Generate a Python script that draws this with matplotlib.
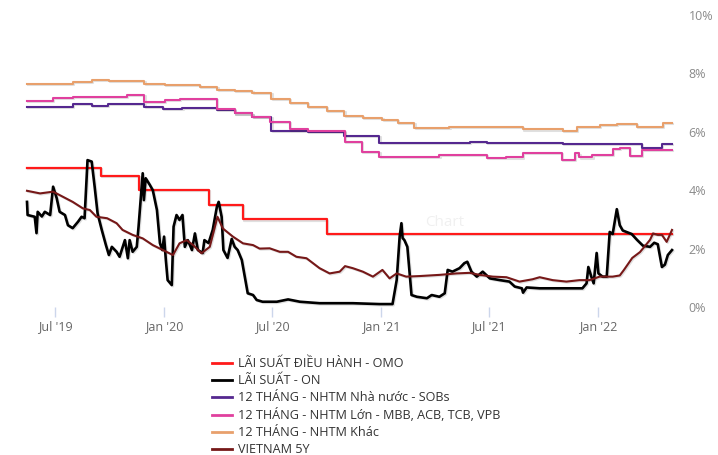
import matplotlib
matplotlib.use("Agg")
import matplotlib.pyplot as plt
import matplotlib.patheffects as pe
import pandas as pd

plt.rcParams['font.family'] = ['Open Sans', 'DejaVu Sans']

END_DATE = "2022-05-06"

# Policy OMO rate (step series: change dates and new level)
omo_dates = ["2019-05-15", "2019-09-16", "2019-11-19", "2020-03-17", "2020-05-13", "2020-10-01"]
omo_values = [4.75, 4.5, 4.0, 3.5, 3.0, 2.5]

# Overnight interbank rate
on_dates = [
    "2019-05-15", "2019-05-16", "2019-05-28", "2019-05-31", "2019-06-02", "2019-06-09", "2019-06-14",
    "2019-06-23", "2019-06-28", "2019-07-04", "2019-07-09", "2019-07-18", "2019-07-23", "2019-07-31",
    "2019-08-09", "2019-08-15", "2019-08-20", "2019-08-25", "2019-09-01", "2019-09-06", "2019-09-11",
    "2019-09-18", "2019-09-25", "2019-09-30", "2019-10-05", "2019-10-13", "2019-10-18", "2019-10-27",
    "2019-11-01", "2019-11-04", "2019-11-09", "2019-11-16", "2019-11-19", "2019-11-26", "2019-11-28",
    "2019-12-01", "2019-12-08", "2019-12-13", "2019-12-20", "2019-12-25", "2019-12-29", "2020-01-01",
    "2020-01-04", "2020-01-07", "2020-01-14", "2020-01-17", "2020-01-22", "2020-01-27", "2020-02-01",
    "2020-02-05", "2020-02-10", "2020-02-17", "2020-02-22", "2020-02-27", "2020-03-06", "2020-03-09",
    "2020-03-16", "2020-03-23", "2020-03-30", "2020-04-02", "2020-04-07", "2020-04-10", "2020-04-17",
    "2020-04-24", "2020-04-29", "2020-05-04", "2020-05-11", "2020-05-16", "2020-05-21", "2020-05-30",
    "2020-06-05", "2020-06-15", "2020-07-09", "2020-07-28", "2020-08-17", "2020-09-19", "2020-11-14",
    "2020-12-29", "2021-01-20", "2021-01-27", "2021-02-01", "2021-02-04", "2021-02-06", "2021-02-09",
    "2021-02-14", "2021-02-21", "2021-03-02", "2021-03-19", "2021-03-27", "2021-04-09", "2021-04-18",
    "2021-04-23", "2021-05-01", "2021-05-13", "2021-05-21", "2021-05-26", "2021-06-02", "2021-06-11",
    "2021-06-21", "2021-07-03", "2021-07-20", "2021-08-05", "2021-08-14", "2021-08-26", "2021-08-28",
    "2021-09-03", "2021-09-25", "2021-10-29", "2021-12-06", "2021-12-13", "2021-12-16", "2021-12-21",
    "2021-12-25", "2021-12-30", "2022-01-02", "2022-01-09", "2022-01-16", "2022-01-21", "2022-01-26",
    "2022-02-02", "2022-02-07", "2022-02-12", "2022-02-27", "2022-03-08", "2022-03-18", "2022-03-30",
    "2022-04-06", "2022-04-12", "2022-04-19", "2022-04-24", "2022-04-29", "2022-05-06",
]
on_values = [
    3.60, 3.15, 3.09, 2.53, 3.26, 3.10, 3.26,
    3.15, 4.12, 3.73, 3.26, 3.15, 2.80, 2.70,
    2.92, 3.09, 3.04, 5.03, 4.98, 4.12, 3.20,
    2.64, 2.12, 1.78, 2.06, 1.89, 1.72, 2.29,
    1.67, 2.29, 1.89, 2.06, 2.75, 4.58, 3.66,
    4.41, 4.18, 4.00, 3.32, 2.19, 1.95, 2.41,
    1.61, 0.92, 0.75, 2.75, 3.15, 2.98, 3.15,
    2.06, 2.29, 1.95, 2.52, 1.95, 1.85, 2.29,
    2.19, 2.64, 3.43, 3.60, 3.09, 1.95, 1.68,
    2.33, 2.06, 1.95, 1.61, 1.04, 0.47, 0.41,
    0.24, 0.18, 0.18, 0.26, 0.18, 0.13, 0.13,
    0.10, 0.10, 0.92, 2.41, 2.87, 2.36, 2.29,
    2.06, 0.41, 0.35, 0.30, 0.41, 0.35, 0.47,
    1.27, 1.21, 1.33, 1.50, 1.55, 1.21, 1.04,
    1.21, 0.98, 0.92, 0.87, 0.70, 0.64, 0.49,
    0.67, 0.64, 0.64, 0.64, 0.81, 1.37, 1.04,
    0.81, 1.85, 1.15, 1.04, 1.04, 2.57, 2.50,
    3.35, 2.80, 2.62, 2.50, 2.30, 2.10, 2.06,
    2.20, 2.15, 1.37, 1.45, 1.78, 1.95,
]

# 12-month deposit rates (step series)
sob_dates = ["2019-05-15", "2019-07-31", "2019-09-01", "2019-09-28", "2019-11-29", "2019-12-30",
             "2020-02-01", "2020-03-30", "2020-04-29", "2020-05-29", "2020-06-30", "2020-08-30",
             "2020-10-31", "2020-12-29", "2021-05-30", "2021-06-28", "2021-11-03", "2022-03-16",
             "2022-04-19"]
sob_values = [6.86, 6.94, 6.88, 6.94, 6.86, 6.77,
              6.83, 6.75, 6.63, 6.52, 6.03, 6.00,
              5.86, 5.63, 5.66, 5.63, 5.57, 5.43,
              5.57]

big_dates = ["2019-05-15", "2019-06-28", "2019-07-31", "2019-10-30", "2019-11-29", "2020-01-02",
             "2020-01-28", "2020-03-30", "2020-04-29", "2020-05-29", "2020-06-27", "2020-07-31",
             "2020-08-30", "2020-11-01", "2020-11-29", "2020-12-29", "2021-04-09", "2021-06-28",
             "2021-07-31", "2021-08-28", "2021-11-01", "2021-11-23", "2021-12-01", "2021-12-23",
             "2022-01-26", "2022-02-07", "2022-02-24", "2022-03-16"]
big_values = [7.07, 7.17, 7.20, 7.26, 7.03, 7.09,
              7.11, 6.77, 6.63, 6.52, 6.35, 6.08,
              6.04, 5.66, 5.32, 5.15, 5.20, 5.09,
              5.12, 5.28, 5.03, 5.26, 5.12, 5.20,
              5.40, 5.45, 5.17, 5.38]

other_dates = ["2019-05-15", "2019-07-31", "2019-09-01", "2019-09-30", "2019-11-29", "2020-01-02",
               "2020-03-01", "2020-03-31", "2020-04-29", "2020-05-29", "2020-06-30", "2020-07-31",
               "2020-08-30", "2020-10-01", "2020-10-31", "2020-12-01", "2021-01-03", "2021-01-29",
               "2021-02-26", "2021-04-26", "2021-08-28", "2021-11-03", "2021-11-27", "2022-01-04",
               "2022-02-02", "2022-03-08", "2022-04-21"]
other_values = [7.63, 7.70, 7.77, 7.73, 7.63, 7.59,
                7.55, 7.43, 7.40, 7.32, 7.11, 7.00,
                6.86, 6.72, 6.55, 6.46, 6.40, 6.29,
                6.14, 6.17, 6.08, 6.02, 6.17, 6.23,
                6.27, 6.17, 6.29]

# Vietnam 5-year government bond yield
vn5y_dates = [
    "2019-05-15", "2019-06-06", "2019-06-28", "2019-07-14", "2019-07-31", "2019-08-17", "2019-08-29",
    "2019-09-09", "2019-09-27", "2019-10-13", "2019-10-23", "2019-11-09", "2019-11-26", "2019-12-13",
    "2019-12-30", "2020-01-16", "2020-01-27", "2020-02-08", "2020-02-19", "2020-03-04", "2020-03-18",
    "2020-03-31", "2020-04-09", "2020-04-26", "2020-05-13", "2020-05-30", "2020-06-10", "2020-06-27",
    "2020-07-14", "2020-07-28", "2020-08-11", "2020-08-28", "2020-09-19", "2020-10-06", "2020-10-23",
    "2020-11-01", "2020-11-14", "2020-12-01", "2020-12-18", "2021-01-03", "2021-01-15", "2021-01-27",
    "2021-02-12", "2021-03-07", "2021-04-09", "2021-05-08", "2021-05-30", "2021-06-16", "2021-07-08",
    "2021-07-31", "2021-08-22", "2021-09-13", "2021-09-25", "2021-10-17", "2021-11-09", "2021-12-01",
    "2021-12-18", "2022-01-04", "2022-01-26", "2022-02-07", "2022-02-14", "2022-02-28", "2022-03-13",
    "2022-03-30", "2022-04-04", "2022-04-12", "2022-04-19", "2022-04-27", "2022-05-06",
]
vn5y_values = [
    3.98, 3.89, 3.95, 3.78, 3.60, 3.38, 3.32,
    3.09, 3.04, 2.87, 2.64, 2.47, 2.35, 2.12,
    1.95, 1.78, 2.18, 2.29, 2.12, 1.84, 2.06,
    3.09, 2.69, 2.41, 2.18, 2.12, 2.00, 2.01,
    1.89, 1.89, 1.72, 1.67, 1.33, 1.15, 1.21,
    1.40, 1.33, 1.21, 1.04, 1.27, 0.98, 1.15,
    1.04, 1.06, 1.10, 1.15, 1.17, 1.10, 1.04,
    1.02, 0.87, 0.95, 1.02, 0.92, 0.87, 0.92,
    0.92, 1.04, 1.04, 1.08, 1.27, 1.68, 1.88,
    2.30, 2.52, 2.47, 2.47, 2.23, 2.64,
]

tick_dates = ["2019-07-01", "2020-01-01", "2020-07-01", "2021-01-01", "2021-07-01", "2022-01-01"]
tick_labels = ["Jul '19", "Jan '20", "Jul '20", "Jan '21", "Jul '21", "Jan '22"]
y_ticks = [0, 2, 4, 6, 8, 10]

labels = [
    "LÃI SUẤT ĐIỀU HÀNH - OMO",
    "LÃI SUẤT - ON",
    "12 THÁNG - NHTM Nhà nước - SOBs",
    "12 THÁNG - NHTM Lớn - MBB, ACB, TCB, VPB",
    "12 THÁNG - NHTM Khác",
    "VIETNAM 5Y",
]
colors = ["#ff1a1a", "#000000", "#55288f", "#e0409e", "#e8a06c", "#761818"]


def step_series(dates, values):
    d = pd.to_datetime(list(dates) + [END_DATE])
    v = list(values) + [values[-1]]
    return d, v


fig = plt.figure(figsize=(7.18, 4.55), dpi=100)
ax = fig.add_axes([27 / 718, 1 - 307 / 455, (672 - 27) / 718, (307 - 15) / 455])

shadow = [pe.SimpleLineShadow(offset=(0.8, -0.8), alpha=0.12, shadow_color="black"), pe.Normal()]

series = [
    (step_series(omo_dates, omo_values), "steps-post", 1.6),
    ((pd.to_datetime(on_dates), on_values), "default", 1.9),
    (step_series(sob_dates, sob_values), "steps-post", 1.5),
    (step_series(big_dates, big_values), "steps-post", 1.5),
    (step_series(other_dates, other_values), "steps-post", 1.5),
    ((pd.to_datetime(vn5y_dates), vn5y_values), "default", 1.5),
]

handles = []
for (xy, ds, lw), lab, col in zip(series, labels, colors):
    x, y = xy
    ln, = ax.plot(x, y, color=col, lw=lw, drawstyle=ds, label=lab,
                  solid_joinstyle="round", path_effects=shadow, clip_on=False)
    handles.append(ln)

ax.set_xlim(pd.Timestamp("2019-05-15"), pd.Timestamp(END_DATE))
ax.set_ylim(0, 10)

ax.set_xticks(pd.to_datetime(tick_dates))
ax.set_xticklabels(tick_labels)
ax.set_yticks(y_ticks)
ax.set_yticklabels([f"{t}%" for t in y_ticks])

ax.yaxis.tick_right()
ax.tick_params(axis="y", length=0, pad=12, labelsize=9, labelcolor="#8a8a8a")
ax.tick_params(axis="x", length=7.5, width=1, color="#ccd6eb", pad=2,
               labelsize=9, labelcolor="#666666")
for s in ax.spines.values():
    s.set_visible(False)

# faint watermark
fig.text(425 / 718, 1 - 222 / 455, "Chart", fontsize=11, color="#f0f0f0", va="center", ha="left")

leg = fig.legend(handles=handles, labels=labels, loc="upper left",
                 bbox_to_anchor=(212 / 718, 1 - 357 / 455), frameon=False,
                 fontsize=9.1, handlelength=1.55, handletextpad=0.5, labelspacing=0.32,
                 borderaxespad=0, borderpad=0)
for t in leg.get_texts():
    t.set_color("#333333")
for h in leg.legend_handles:
    h.set_linewidth(2)
    h.set_path_effects([])

fig.savefig("out.png", dpi=100)
